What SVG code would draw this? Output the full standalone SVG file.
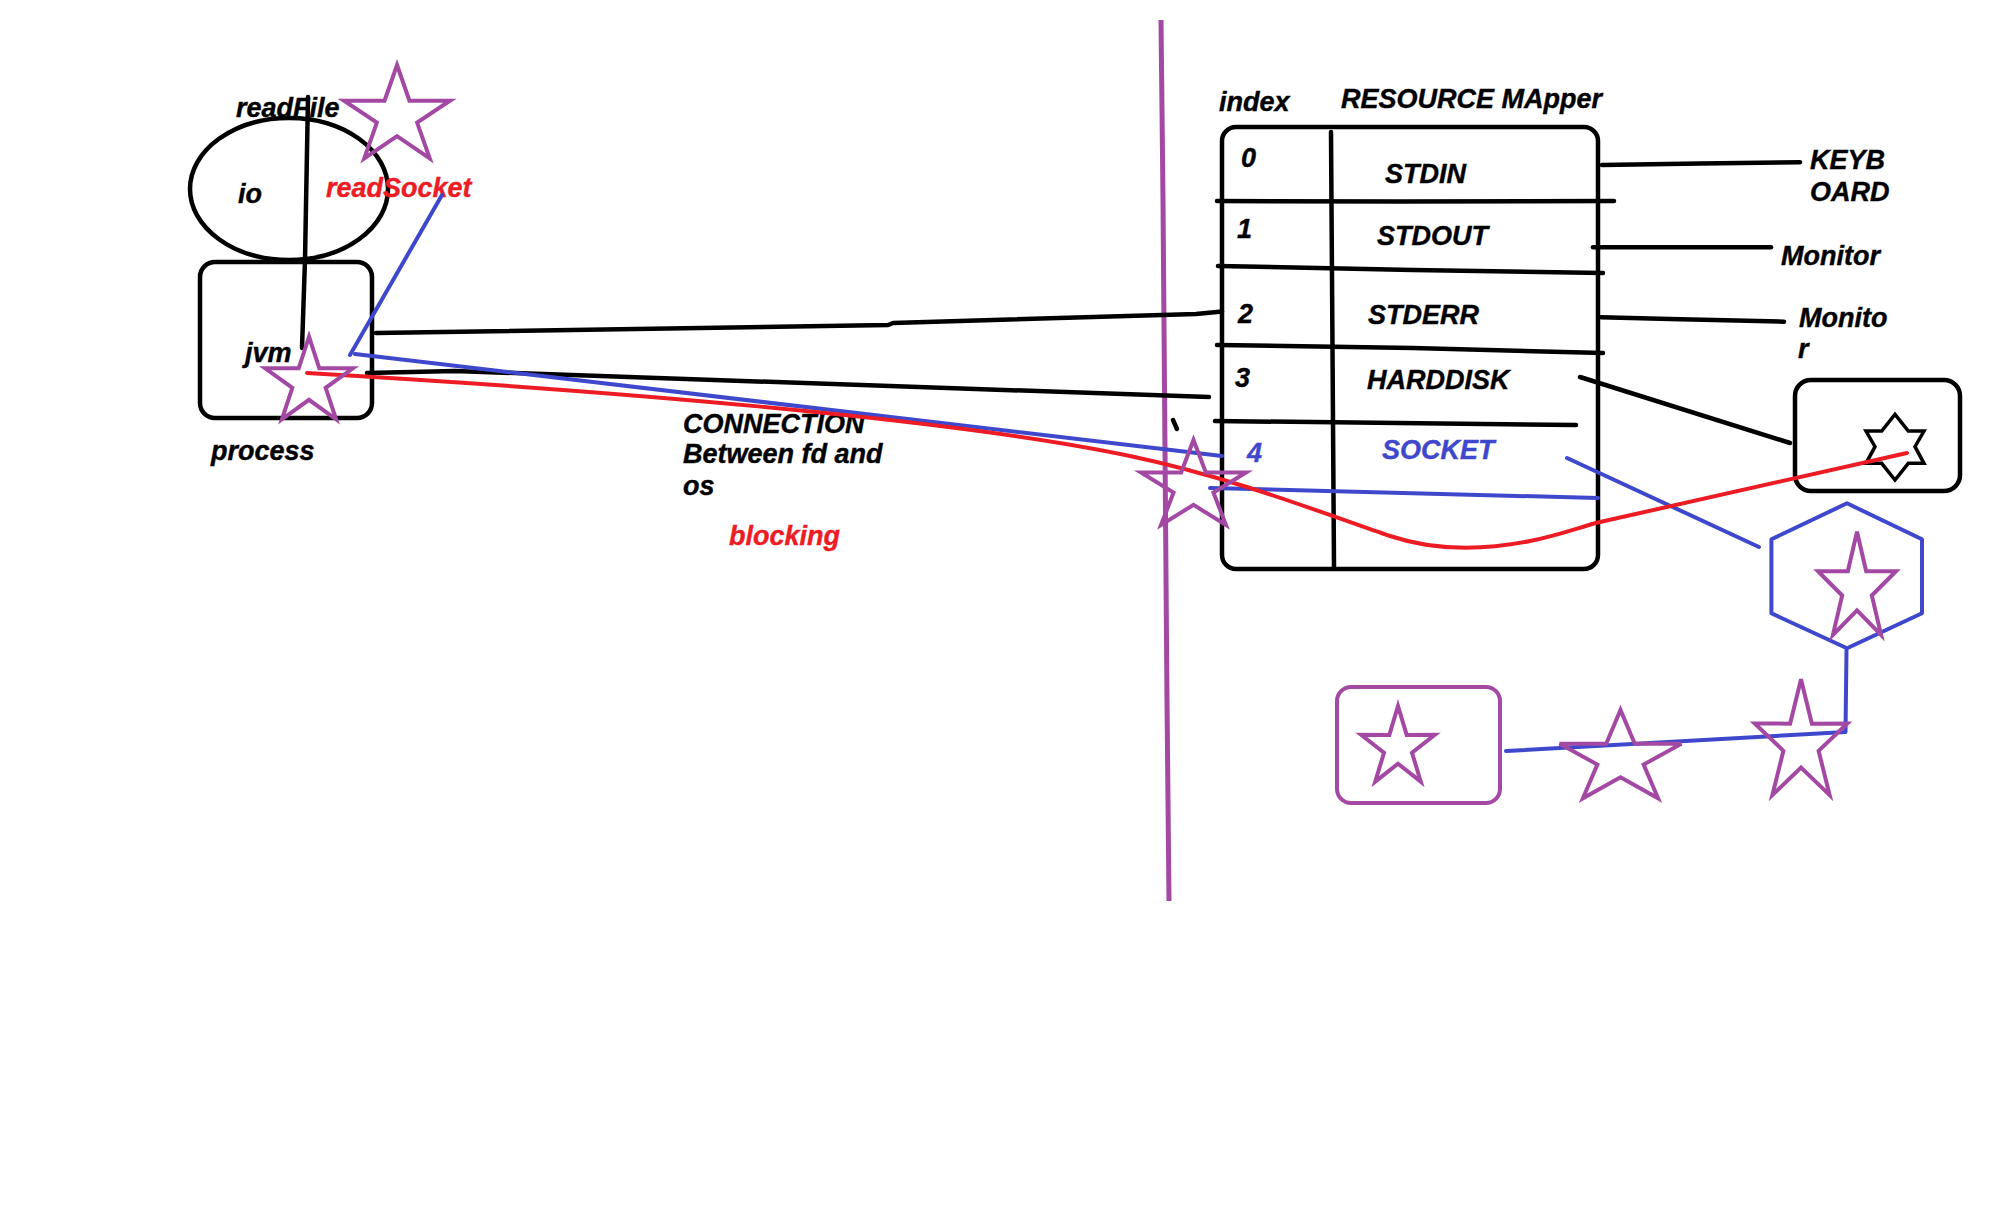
<svg xmlns="http://www.w3.org/2000/svg" width="1992" height="1227" viewBox="0 0 1992 1227">
<style>
.k{fill:none;stroke:#000;stroke-width:4.5;stroke-linecap:round;stroke-linejoin:round}
.b{fill:none;stroke:#3F48CC;stroke-width:4;stroke-linecap:round;stroke-linejoin:round}
.r{fill:none;stroke:#ED1C24;stroke-width:4;stroke-linecap:round;stroke-linejoin:round}
.p{fill:none;stroke:#A349A4;stroke-width:4;stroke-linejoin:miter}
text{font-family:"Liberation Sans",Arial,sans-serif;font-weight:bold;font-style:italic;font-size:27px;fill:#000;stroke:#000;stroke-width:0.4}
.tr{fill:#ED1C24;stroke:#ED1C24}
.tb{fill:#3F48CC;stroke:#3F48CC}
</style>
<defs>
<path id="star5" vector-effect="non-scaling-stroke" d="M0,-50 L11.17,-15.37 L47.55,-15.45 L18.07,5.87 L29.39,40.45 L0,19 L-29.39,40.45 L-18.07,5.87 L-47.55,-15.45 L-11.17,-15.37 Z"/>
</defs>
<rect width="1992" height="1227" fill="#fff"/>

<g id="io">
<ellipse class="k" cx="289" cy="189" rx="99" ry="71"/>
<text x="238" y="203">io</text>
</g>
<g id="readFile">
<text x="236" y="117">readFile</text>
</g>
<g id="readSocket">
<text class="tr" x="326" y="197">readSocket</text>
</g>
<g id="process">
<rect class="k" x="200" y="262" width="172" height="156" rx="15"/>
<text x="245" y="362">jvm</text>
<text x="211" y="460">process</text>
</g>
<g id="connection-label">
<text x="683" y="433">CONNECTION</text>
<text x="683" y="463">Between fd and</text>
<text x="683" y="495">os</text>
<text class="tr" x="729" y="545">blocking</text>
</g>

<g id="resource-mapper">
<text x="1219" y="111">index</text>
<text x="1341" y="108">RESOURCE MApper</text>
<rect x="1222" y="127" width="376" height="442" rx="14" fill="none" stroke="#000" stroke-width="4.5"/>
<polyline class="k" points="1331,132 1334,567"/>
<polyline class="k" points="1217,201 1400,201.5 1614,201"/>
<polyline class="k" points="1218,266 1413,270 1603,273"/>
<polyline class="k" points="1217,345 1413,348 1603,353"/>
<polyline class="k" points="1215,421 1576,425"/>
<text x="1241" y="167">0</text>
<text x="1385" y="183">STDIN</text>
<text x="1237" y="238">1</text>
<text x="1377" y="245">STDOUT</text>
<text x="1238" y="323">2</text>
<text x="1368" y="324">STDERR</text>
<text x="1235" y="387">3</text>
<text x="1367" y="389">HARDDISK</text>
<text class="tb" x="1247" y="462">4</text>
<text class="tb" x="1382" y="459">SOCKET</text>
</g>

<g id="keyboard"><text x="1810" y="169">KEYB</text><text x="1810" y="201">OARD</text></g>
<g id="monitor1"><text x="1781" y="265">Monitor</text></g>
<g id="monitor2"><text x="1799" y="327">Monito</text><text x="1798" y="358">r</text></g>

<g id="harddisk-device">
<rect class="k" x="1795" y="380" width="165" height="111" rx="16"/>
<polygon fill="none" stroke="#000" stroke-width="3.5" stroke-linejoin="miter" points="1895,414.3 1908.3,431 1924,431 1915,446.7 1924,463.3 1908.3,463.3 1895,480 1881.7,463.3 1866,463.3 1875,446.7 1866,431 1881.7,431"/>
</g>

<g id="socket-hexagon">
<polygon class="b" points="1847,503.3 1922,539.3 1922,613.3 1847,648.3 1771.4,613.3 1771.4,539.3"/>
</g>

<g id="remote-box">
<rect class="p" x="1337" y="687" width="163" height="116" rx="14"/>
</g>

<g id="divider">
<polyline fill="none" stroke="#A349A4" stroke-width="5" points="1161,20 1163,200 1165,450 1167,700 1169,901"/>
</g>

<g id="connectors">
<polyline class="k" points="308,97 305,260 302,348"/>
<polyline class="k" points="376,333 888,325 893,323 1196,314 1222,311.5"/>
<polyline class="k" points="367,373 455,371 1209,397"/>
<polyline class="k" points="1173,420 1177,429"/>
<polyline class="k" points="1602,165 1700,163.5 1800,162.3"/>
<polyline class="k" points="1593,247.3 1771,247.3"/>
<polyline class="k" points="1601,317.3 1670,319 1784,321.7"/>
<polyline class="k" points="1580,377 1790,443"/>
<polyline class="b" points="442,195 350,355"/>
<polyline class="b" points="355,354 1222,456"/>
<polyline class="b" points="1210,488 1598,498"/>
<polyline class="b" points="1567,458 1759,547"/>
<polyline class="b" points="1846.5,650 1845.5,732 1506,751"/>
<path class="r" d="M307,373 C600,390 950,418 1130,456 C1230,477 1320,512 1390,536 C1432,550 1480,551 1530,541 C1560,535 1580,527 1600,522 L1907,453"/>
</g>

<g id="stars">
<use href="#star5" class="p" transform="translate(397,116.6) scale(1.114,1.032)"/>
<use href="#star5" class="p" transform="translate(309,382.4) scale(0.922,0.914)"/>
<use href="#star5" class="p" transform="translate(1193.5,487) scale(1.104,0.94)"/>
<use href="#star5" class="p" transform="translate(1857,588.8) scale(0.82,1.14)"/>
<use href="#star5" class="p" transform="translate(1398,747.8) scale(0.775,0.837)"/>
<use href="#star5" class="p" transform="translate(1620.5,758.8) scale(1.28,0.976)"/>
<use href="#star5" class="p" transform="translate(1801,743.3) scale(0.974,1.28)"/>
</g>
</svg>
